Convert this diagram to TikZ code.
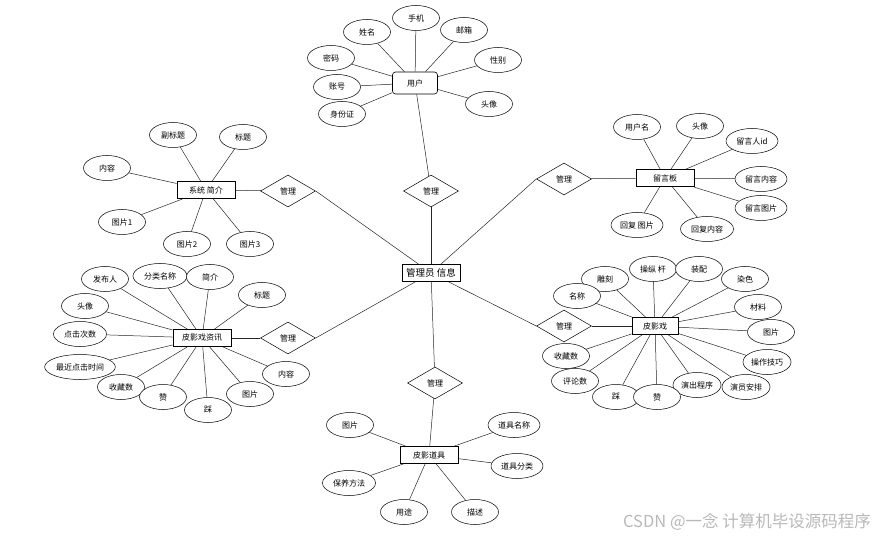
\documentclass[tikz,border=0pt]{standalone}
\usepackage{fontspec}
\newfontfamily\cjk{Noto Sans CJK SC}
\usepackage{tikz}
\usetikzlibrary{positioning,shapes.geometric,backgrounds}

\begin{document}
\begin{tikzpicture}[
  x=1pt, y=-1pt,
  font=\cjk\fontsize{8}{9}\selectfont,
  ent/.style  = {draw, line width=0.9pt, fill=white, align=center, inner sep=1pt,
                 minimum width=58pt, minimum height=17pt},
  usrb/.style = {draw, line width=0.6pt, rounded corners=3pt, fill=white,
                 minimum width=45pt, minimum height=22pt, inner sep=1pt},
  rel/.style  = {draw, diamond, aspect=1.7, line width=0.5pt, fill=white,
                 minimum width=55pt, minimum height=32pt, inner sep=0pt},
  attr/.style = {draw, ellipse, line width=0.5pt, fill=white, inner sep=1pt,
                 minimum width=47pt, minimum height=25pt},
  ln/.style   = {line width=0.5pt, black!85},
]
\useasboundingbox (0,0) rectangle (875,537);

% =========================== centre ========================================
\node[ent, font=\cjk\fontsize{9.5}{10}\selectfont] (adm) at (431,273) {管理员 信息};

\node[rel] (rtop) at (431,191) {管理};
\node[rel] (rlt)  at (288,191) {管理};
\node[rel] (rlb)  at (288,338) {管理};
\node[rel] (rbot) at (435,383) {管理};
\node[rel] (rrt)  at (564,179) {管理};
\node[rel] (rrb)  at (564,326) {管理};

% =========================== entities ======================================
\node[usrb] (usr) at (415,83)  {用户};
\node[ent]  (sys) at (206,190) {系统 简介};
\node[ent]  (msg) at (665,178) {留言板};
\node[ent]  (nws) at (202,338) {皮影戏资讯};
\node[ent, minimum width=46pt] (ply) at (655,326) {皮影戏};
\node[ent]  (prp) at (429,455) {皮影道具};

% =========================== 用户 ==========================================
\node[attr] (u1) at (367,32)  {姓名};
\node[attr] (u2) at (416,18)  {手机};
\node[attr] (u3) at (464,30)  {邮箱};
\node[attr] (u4) at (498,60)  {性别};
\node[attr] (u5) at (331,58)  {密码};
\node[attr] (u6) at (337,87)  {账号};
\node[attr] (u7) at (342,114) {身份证};
\node[attr] (u8) at (489,104) {头像};

% =========================== 系统简介 ======================================
\node[attr] (s1) at (173,135) {副标题};
\node[attr] (s2) at (243,137) {标题};
\node[attr] (s3) at (107,168) {内容};
\node[attr] (s4) at (122,222) {图片1};
\node[attr] (s5) at (187,244) {图片2};
\node[attr] (s6) at (250,244) {图片3};

% =========================== 皮影戏资讯 ====================================
\node[attr] (n1)  at (105,279) {发布人};
\node[attr, minimum width=54pt] (n2) at (160,276) {分类名称};
\node[attr] (n3)  at (210,277) {简介};
\node[attr] (n4)  at (262,295) {标题};
\node[attr] (n5)  at (85,306)  {头像};
\node[attr, minimum width=53pt] (n6) at (80,334) {点击次数};
\node[attr, minimum width=70pt] (n7) at (80,367) {最近点击时间};
\node[attr] (n8)  at (121,387) {收藏数};
\node[attr] (n9)  at (163,397) {赞};
\node[attr] (n10) at (208,410) {踩};
\node[attr] (n11) at (250,394) {图片};
\node[attr] (n12) at (286,374) {内容};

% =========================== 留言板 ========================================
\node[attr] (m1) at (637,127) {用户名};
\node[attr] (m2) at (700,126) {头像};
\node[attr, minimum width=52pt] (m3) at (752,141) {留言人id};
\node[attr, minimum width=52pt] (m4) at (761,179) {留言内容};
\node[attr, minimum width=52pt] (m5) at (761,208) {留言图片};
\node[attr, minimum width=52pt] (m6) at (637,225) {回复 图片};
\node[attr, minimum width=53pt] (m7) at (707,229) {回复内容};

% =========================== 皮影戏 ========================================
\node[attr] (p1)  at (605,279) {雕刻};
\node[attr] (p2)  at (653,269) {操纵 杆};
\node[attr] (p3)  at (699,269) {装配};
\node[attr] (p4)  at (745,279) {染色};
\node[attr] (p5)  at (577,296) {名称};
\node[attr] (p6)  at (758,307) {材料};
\node[attr] (p7)  at (771,332) {图片};
\node[attr] (p8)  at (767,362) {操作技巧};
\node[attr] (p9)  at (746,387) {演员安排};
\node[attr, minimum width=48pt] (p10) at (697,385) {演出程序};
\node[attr] (p12) at (616,397) {踩};
\node[attr] (p11) at (657,397) {赞};
\node[attr] (p13) at (575,381) {评论数};
\node[attr] (p14) at (566,356) {收藏数};

% =========================== 皮影道具 ======================================
\node[attr] (d1) at (350,425) {图片};
\node[attr, minimum width=52pt] (d2) at (514,425) {道具名称};
\node[attr, minimum width=52pt] (d3) at (517,466) {道具分类};
\node[attr, minimum width=53pt] (d4) at (349,483) {保养方法};
\node[attr] (d5) at (404,512) {用途};
\node[attr] (d6) at (475,512) {描述};

% =========================== connectors ====================================
\begin{scope}[on background layer]
  \draw[ln] (adm) -- (rtop);  \draw[ln] (rtop) -- (usr);
  \draw[ln] (adm) -- (rlt.east);  \draw[ln] (rlt) -- (sys);
  \draw[ln] (adm) -- (rlb.east);  \draw[ln] (rlb) -- (nws);
  \draw[ln] (adm) -- (rbot);  \draw[ln] (rbot) -- (prp);
  \draw[ln] (adm) -- (rrt.west);  \draw[ln] (rrt) -- (msg);
  \draw[ln] (adm) -- (rrb.west);  \draw[ln] (rrb) -- (ply);

  \foreach \a in {u1,u2,u3,u4,u5,u6,u7,u8} \draw[ln] (usr) -- (\a);
  \foreach \a in {s1,s2,s3,s4,s5,s6} \draw[ln] (sys) -- (\a);
  \foreach \a in {n1,n2,n3,n4,n5,n6,n7,n8,n9,n10,n11,n12} \draw[ln] (nws) -- (\a);
  \foreach \a in {m1,m2,m3,m4,m5,m6,m7} \draw[ln] (msg) -- (\a);
  \foreach \a in {p1,p2,p3,p4,p5,p6,p7,p8,p9,p10,p11,p12,p13,p14} \draw[ln] (ply) -- (\a);
  \foreach \a in {d1,d2,d3,d4,d5,d6} \draw[ln] (prp) -- (\a);
\end{scope}

% =========================== watermark =====================================
\node[text=black!28, font=\cjk\fontsize{16.5}{18}\selectfont, anchor=east,
      inner sep=0pt] (wm) at (871,522) {CSDN @一念 计算机毕设源码程序};

\end{tikzpicture}
\end{document}
